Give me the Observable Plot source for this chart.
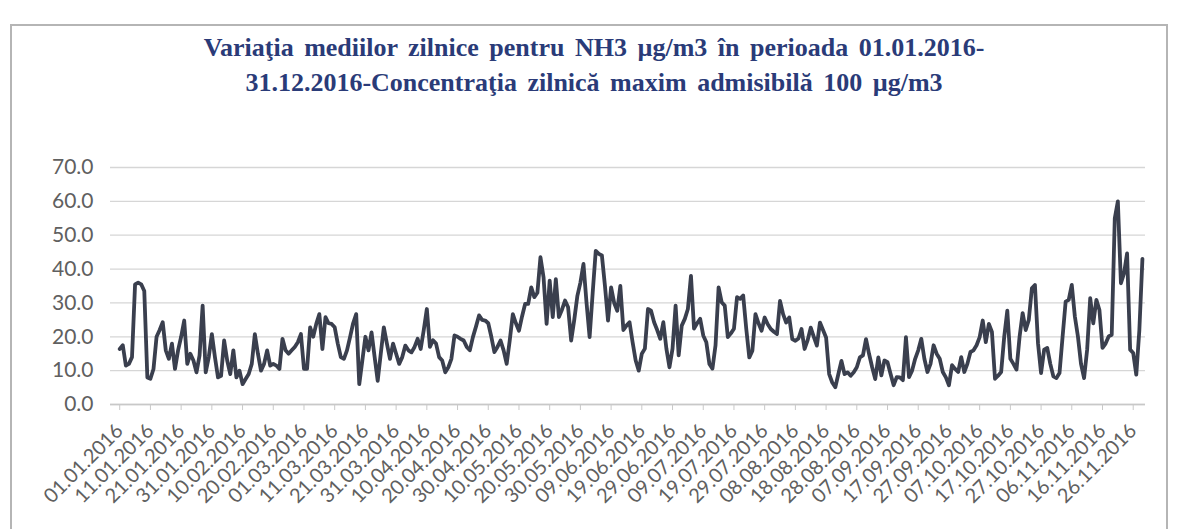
<!DOCTYPE html>
<html>
<head>
<meta charset="utf-8">
<script src="https://cdn.jsdelivr.net/npm/d3@7"></script>
<script src="https://cdn.jsdelivr.net/npm/@observablehq/plot@0.6"></script>
<style>
  html, body { margin: 0; padding: 0; background: #fff; }
  body { width: 1179px; height: 529px; position: relative; overflow: hidden; }
  #frame { position: absolute; left: 10px; top: 24px; width: 1158px; height: 520px; border: 2px solid #b5b5b5; box-sizing: border-box; }
  #title { position: absolute; left: 0; top: 30px; width: 1188px; text-align: center;
           font-family: "Liberation Serif", "Times New Roman", serif; font-weight: bold;
           font-size: 26px; line-height: 35px; word-spacing: 4px; color: #2a3b78; }
  #chart { position: absolute; left: 0; top: 130px; }
</style>
</head>
<body>
<div id="frame"></div>
<div id="title">Variaţia mediilor zilnice pentru NH3 µg/m3 în perioada 01.01.2016-<br>31.12.2016-Concentraţia zilnică maxim admisibilă 100 µg/m3</div>
<div id="chart"></div>
<script>
// Daily means of NH3 (µg/m3), one value per day starting 01.01.2016
const values = [
16.4,17.5,11.5,12,14,35.5,36,35.5,33.5,8,
7.6,10.5,20,22,24.3,16,13.5,18,10.5,16,
20,24.8,12,15,13,9.5,14.5,29.2,9.5,14,
20.8,14,8,8.5,18.9,13,9,16,8,10,
6,7.5,9,12,20.8,15,10,12,16,11.5,
12,11.5,10.5,19.4,16,15,16,17,18.4,20.8,
10.5,10.5,22.8,20,23.8,26.7,16.4,25.8,24,23.8,
22.8,18,14,13.5,16,19.9,24,26.7,6,13,
20,16,21.3,14,7,15,22.8,18,13.5,18,
15,12,14,17.4,16,15.4,17,19.4,16.4,22,
28.2,17,19,18,14,13,9.5,11,13.5,20.4,
20,19.4,18.9,17,16,19.9,23,26.3,25,24.8,
24,20,15.5,17,18.9,16,12,19,26.7,24,
21.8,26,29.7,29.7,34.6,31.7,33,43.5,37.6,23.8,
36.6,25.8,37,25.8,28,30.7,28.7,18.9,25,32,
36,41.5,30,19.9,33,45.4,44.5,44,35,24.8,
34.6,30,27.7,35,22,23.3,24.3,18.4,13,10,
15,16.5,28.2,27.7,24.3,22,19.4,24.3,16.5,11,
16.5,29.2,14.5,23.3,25.3,28.2,38,22.4,24,25.3,
20.4,18.4,12,10.6,17.5,34.6,30.2,29.2,19.9,21,
22.4,31.7,31.2,32.2,22.4,13.9,15.9,26.7,24,21.8,
25.7,23.7,22.3,21.5,20.8,30.6,26.7,24.2,25.7,19.3,
18.8,19.5,22.3,16.4,19,22.7,20,17.4,24.2,22,
19.8,9,6.5,5.1,9,12.9,9,9.5,8.5,9.5,
11,13.9,14.5,19.3,14.9,11,7.5,13.9,8.6,13,
12.5,9,5.7,8.1,8,7.2,19.9,8.1,10,13.5,
16,19.4,13.5,9.6,12,17.5,15,13.5,9.6,8,
5.7,11.6,10.5,9.6,14,9.6,12,15.5,16,17.5,
19.9,24.8,18.4,23.8,21.4,7.6,8.5,9.6,20,27.7,
13.5,12,10.3,20,27,22,25,34.3,35.3,18.1,
9.3,16.2,16.7,12,8.3,7.8,9.3,20,30.4,30.9,
35.3,26,20.1,12,7.8,16.2,31.4,24,30.9,27.9,
16.7,18,20.1,20.6,55,60,35.8,38.7,44.6,16.2,
15.2,8.8,22,43
];

// Category labels shown every 10th day
const tickLabels = [
"01.01.2016","11.01.2016","21.01.2016","31.01.2016","10.02.2016","20.02.2016",
"01.03.2016","11.03.2016","21.03.2016","31.03.2016","10.04.2016","20.04.2016",
"30.04.2016","10.05.2016","20.05.2016","30.05.2016","09.06.2016","19.06.2016",
"29.06.2016","09.07.2016","19.07.2016","29.07.2016","08.08.2016","18.08.2016",
"28.08.2016","07.09.2016","17.09.2016","27.09.2016","07.10.2016","17.10.2016",
"27.10.2016","06.11.2016","16.11.2016","26.11.2016"
];
const tickStep = 10;
const yTicks = [0, 10, 20, 30, 40, 50, 60, 70];

const data = values.map((v, i) => ({day: i, value: v}));
const tickDays = tickLabels.map((_, k) => k * tickStep);

const chart = Plot.plot({
  width: 1179,
  height: 399,
  marginTop: 37,
  marginBottom: 125,
  marginLeft: 110,
  marginRight: 34,
  style: {fontFamily: "Lato, 'Open Sans', sans-serif", color: "#595959", background: "transparent"},
  x: {domain: [-3, 334], axis: null},
  y: {domain: [0, 70], axis: null},
  marks: [
    Plot.gridY(yTicks, {stroke: "#d6d6d6", strokeOpacity: 1, strokeWidth: 1.3}),
    Plot.axisY(yTicks, {label: null, tickSize: 0, tickPadding: 17, fontSize: 21, tickFormat: d => d.toFixed(1), fill: "#606060"}),
    Plot.ruleY([0], {stroke: "#c8c8c8", strokeWidth: 1.5}),
    Plot.axisX(tickDays, {
      label: null, tickSize: 6, tickPadding: 17, tickRotate: -45, fontSize: 20,
      stroke: "#c8c8c8", fill: "#606060",
      tickFormat: d => tickLabels[d / tickStep]
    }),
    Plot.lineY(data, {x: "day", y: "value", stroke: "#3a3f4e", strokeWidth: 3.8, strokeLinejoin: "round", curve: "linear"})
  ]
});
document.getElementById("chart").appendChild(chart);
</script>
</body>
</html>
